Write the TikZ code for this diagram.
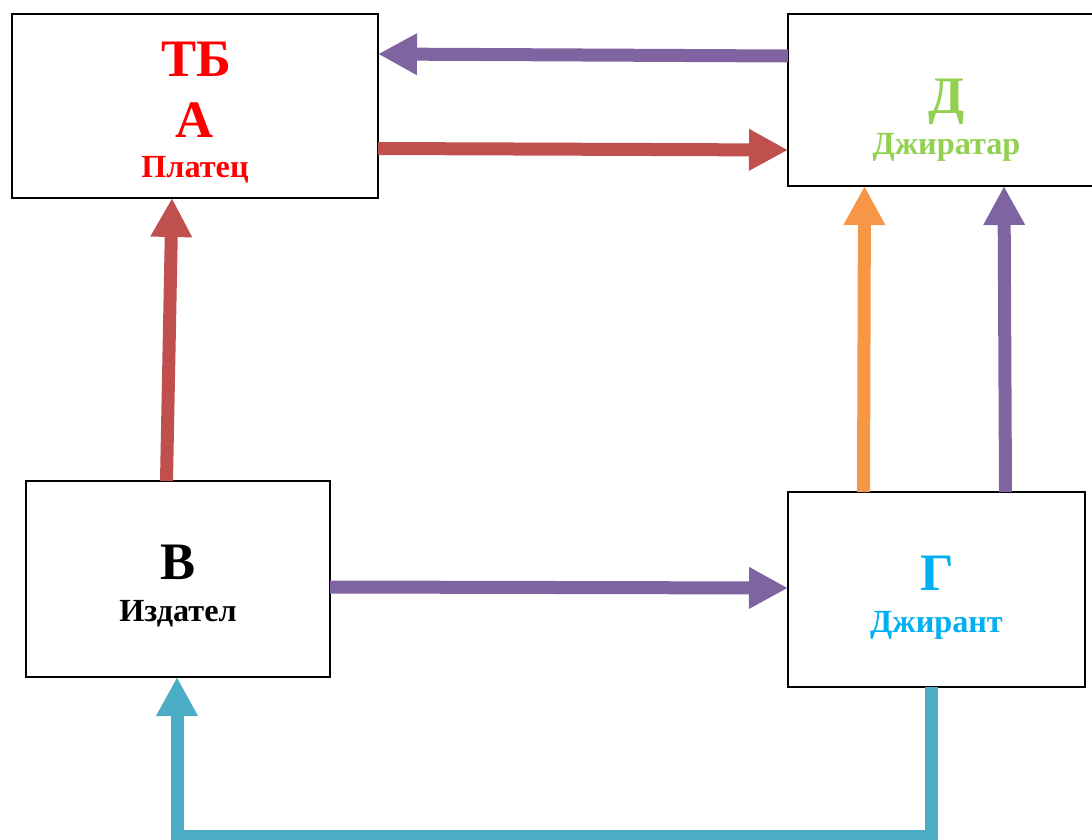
\documentclass[tikz,border=0pt]{standalone}
\usepackage{fontspec}
\setmainfont{Liberation Serif}
\usetikzlibrary{arrows.meta}
\definecolor{cpurple}{HTML}{8064A2}
\definecolor{cred}{HTML}{C0504D}
\definecolor{corange}{HTML}{F79646}
\definecolor{ccyan}{HTML}{4BACC6}
\definecolor{tred}{HTML}{FF0000}
\definecolor{tgreen}{HTML}{92D050}
\definecolor{tblue}{HTML}{00B0F0}
\begin{document}
\begin{tikzpicture}[x=0.75pt,y=-0.75pt,
  box/.style={draw=black,line width=1.1pt,fill=white,inner sep=0pt,outer sep=0pt},
  big/.style={font=\fontsize{39.5}{40}\selectfont\bfseries,anchor=base,inner sep=0pt},
  small/.style={font=\fontsize{24.2}{25}\selectfont\bfseries,anchor=base,inner sep=0pt},
  conn/.style={line width=9.75pt,-{Triangle[length=29.25pt,width=29.25pt]},line join=miter},
]
\useasboundingbox (0,0) rectangle (1092,839);
% boxes
\node[box,minimum width=366*0.75pt,minimum height=184*0.75pt] (A) at (195,106) {};
\node[box,minimum width=317*0.75pt,minimum height=172*0.75pt] (D) at (946.5,100) {};
\node[box,minimum width=304*0.75pt,minimum height=196*0.75pt] (B) at (178,579) {};
\node[box,minimum width=297*0.75pt,minimum height=195*0.75pt] (G) at (936.5,589.5) {};
% texts
\node[big,text=tred] (a1) at (196,76) {ТБ};
\node[big,text=tred] (a2) at (195,137) {А};
\node[small,text=tred] (a3) at (195,177) {Платец};
\node[big,text=tgreen] (d1) at (947,113) {Д};
\node[small,text=tgreen] (d2) at (946.5,154) {Джиратар};
\node[big,text=black] (b1) at (178,579) {В};
\node[small,text=black] (b2) at (178,621) {Издател};
\node[big,text=tblue] (g1) at (937,590) {Г};
\node[small,text=tblue] (g2) at (936.5,632) {Джирант};
% connectors
\draw[conn,cpurple] (D.west |- 0,56) -- (A.east |- 0,54);
\draw[conn,cred] (A.east |- 0,148.5) -- (D.west |- 0,150);
\draw[conn,cred] (B.north -| 166.5,0) -- (A.south -| 172,0);
\draw[conn,corange] (G.north -| 863.5,0) -- (D.south -| 864.5,0);
\draw[conn,cpurple] (G.north -| 1005.5,0) -- (D.south -| 1004,0);
\draw[conn,cpurple] (B.east |- 0,587) -- (G.west |- 0,588);
\draw[conn,ccyan] (G.south -| 931,0) -- (931,836) -- (177,836) -- (B.south -| 177,0);
\end{tikzpicture}
\end{document}
